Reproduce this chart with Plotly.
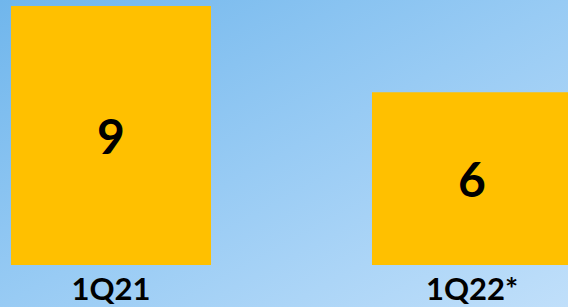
import base64
import plotly.graph_objects as go

categories = ["1Q21", "1Q22*"]
values = [9, 6]
labels = ["9", "6"]

W, H = 568, 307
plot_bottom_margin = 42
plot_h = H - plot_bottom_margin

svg = (
    '<svg xmlns="http://www.w3.org/2000/svg" width="568" height="307" preserveAspectRatio="none">'
    '<defs><linearGradient id="g" x1="0" y1="0" x2="1" y2="1">'
    '<stop offset="0" stop-color="#70B6EC"/>'
    '<stop offset="0.5" stop-color="#98CBF4"/>'
    '<stop offset="1" stop-color="#C0DFFA"/>'
    '</linearGradient></defs>'
    '<rect width="568" height="307" fill="url(#g)"/></svg>'
)
src = "data:image/svg+xml;base64," + base64.b64encode(svg.encode()).decode()

fig = go.Figure(
    go.Bar(
        x=categories,
        y=values,
        text=labels,
        textposition="inside",
        insidetextanchor="middle",
        constraintext="none",
        textfont=dict(family="Lato", size=48, color="black", weight="bold"),
        marker=dict(color="#FFC000", line=dict(width=0)),
        hoverinfo="skip",
    )
)

fig.update_layout(
    width=W,
    height=H,
    margin=dict(l=0, r=0, t=0, b=plot_bottom_margin, pad=0),
    paper_bgcolor="rgba(0,0,0,0)",
    plot_bgcolor="rgba(0,0,0,0)",
    bargap=0.446,
    showlegend=False,
    images=[
        dict(
            source=src,
            xref="paper",
            yref="paper",
            x=0,
            y=1,
            sizex=1,
            sizey=H / plot_h,
            xanchor="left",
            yanchor="top",
            sizing="stretch",
            layer="below",
        )
    ],
)

fig.update_xaxes(
    range=[-0.3075, 1.266],
    showgrid=False,
    zeroline=False,
    showline=False,
    ticks="",
    tickfont=dict(family="Lato", size=31, color="black", weight="bold"),
    ticklabelstandoff=3,
)
fig.update_yaxes(
    range=[0, 9.208],
    visible=False,
)

fig.write_html(
    "out.html",
    config={"displayModeBar": False, "staticPlot": True},
    post_script="document.body.style.margin='0';document.body.style.overflow='hidden';",
)
